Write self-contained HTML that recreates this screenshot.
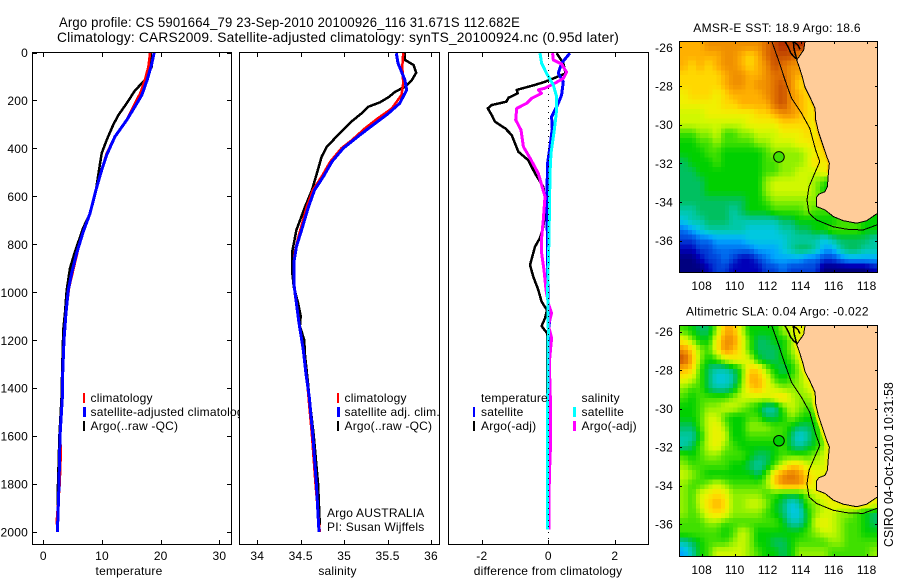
<!DOCTYPE html>
<html lang="en">
<head>
<meta charset="utf-8">
<title>Argo profile chart</title>
<style>
html,body{margin:0;padding:0;background:#fff;}
svg{display:block;font-family:"Liberation Sans",sans-serif;font-size:12px;fill:#000;}
text{letter-spacing:.2px;}
.frame{fill:none;stroke:#000;stroke-width:1;shape-rendering:crispEdges;}
.mark{fill:none;shape-rendering:crispEdges;stroke-linejoin:round;}
</style>
</head>
<body>
<svg id="chart" width="900" height="580" viewBox="0 0 900 580" xmlns="http://www.w3.org/2000/svg">
  <rect x="0" y="0" width="900" height="580" fill="#fff"/>
  <text x="59" y="27" font-size="14" textLength="461" lengthAdjust="spacingAndGlyphs">Argo profile: CS 5901664_79 23-Sep-2010 20100926_116 31.671S 112.682E</text>
  <text x="57" y="42" font-size="14" textLength="562" lengthAdjust="spacingAndGlyphs">Climatology: CARS2009. Satellite-adjusted climatology: synTS_20100924.nc (0.95d later)</text>

  <g id="panel-t"></g>
  <g id="legend-t">
    <rect x="83" y="393" width="2" height="10" fill="#f00"/>
    <text x="90.5" y="402">climatology</text>
    <rect x="83" y="407" width="3" height="10" fill="#00f"/>
    <text x="90.5" y="416">satellite-adjusted climatology</text>
    <rect x="83" y="421" width="2" height="10" fill="#000"/>
    <text x="90.5" y="430">Argo(..raw -QC)</text>
  </g>
  <text x="129" y="575" text-anchor="middle">temperature</text>

  <g id="panel-s"></g>
  <g id="legend-s">
    <rect x="337" y="393" width="2" height="10" fill="#f00"/>
    <text x="344.5" y="402">climatology</text>
    <rect x="337" y="407" width="3" height="10" fill="#00f"/>
    <text x="344.5" y="416">satellite adj. clim.</text>
    <rect x="337" y="421" width="2" height="10" fill="#000"/>
    <text x="344.5" y="430">Argo(..raw -QC)</text>
    <text x="327" y="517">Argo AUSTRALIA</text>
    <text x="327" y="531">PI: Susan Wijffels</text>
  </g>
  <text x="337.5" y="575" text-anchor="middle">salinity</text>

  <g id="panel-d"></g>
  <g id="legend-d">
    <text x="481" y="402">temperature</text>
    <rect x="473" y="407" width="2" height="10" fill="#00f"/>
    <text x="481" y="416">satellite</text>
    <rect x="473" y="421" width="2" height="10" fill="#000"/>
    <text x="481" y="430">Argo(-adj)</text>
    <text x="581.5" y="402">salinity</text>
    <rect x="573" y="407" width="3" height="10" fill="#0ff"/>
    <text x="581.5" y="416">satellite</text>
    <rect x="573" y="421" width="3" height="10" fill="#f0f"/>
    <text x="581.5" y="430">Argo(-adj)</text>
  </g>
  <text x="548" y="575" text-anchor="middle">difference from climatology</text>

  <text x="693.3" y="32" textLength="167.4" lengthAdjust="spacing">AMSR-E SST: 18.9 Argo: 18.6</text>
  <g id="map-sst"></g>
  <text x="686" y="315.5" textLength="182.7" lengthAdjust="spacing">Altimetric SLA: 0.04 Argo: -0.022</text>
  <g id="map-sla"></g>
  <text transform="translate(893,547) rotate(-90)" font-size="12.5" textLength="165" lengthAdjust="spacingAndGlyphs">CSIRO 04-Oct-2010 10:31:58</text>
</svg>

<script>
// ---------- profile data ----------
const depthTicks = [0,200,400,600,800,1000,1200,1400,1600,1800,2000];
const tempTicks = [0,10,20,30];
const salTicks = [34,34.5,35,35.5,36];
const diffTicks = [-2,0,2];

const tempClimDepth = [0,59,114,170,212,282,351,420,490,573,671,747,815,908,980,1086,1199,1337,1441,1600,1660,1800,1950,2000];
const tempClimValue = [18.2,17.9,17.3,16.5,15.6,14.2,12.2,10.8,9.95,8.98,7.96,6.82,6.0,5.1,4.4,3.87,3.53,3.3,3.2,2.85,3.0,2.8,2.3,2.4];
const tempSatDepth = [0,45,114,177,226,282,351,427,490,573,671,747,836,920,990,1086,1199,1337,1441,1600,1800,2000];
const tempSatValue = [18.9,18.5,17.7,16.8,15.6,14.2,12.2,10.8,9.95,8.98,7.96,6.82,5.69,4.84,4.26,3.87,3.53,3.3,3.24,2.85,2.67,2.4];
const tempArgoDepth = [3,59,108,128,159,212,261,302,365,420,504,573,671,730,830,900,990,1086,1156,1337,1441,1600,1800,1960];
const tempArgoValue = [18.3,18.46,17.6,16.8,15.6,14.2,12.8,11.9,10.8,9.95,9.4,8.98,7.96,6.82,5.4,4.55,3.98,3.7,3.4,3.2,3.1,2.75,2.5,2.4];

const salClimDepth = [3,59,128,177,233,274,316,365,399,455,518,573,643,773,836,900,1000,1100,1240,1400,1600,1800,2000];
const salClimValue = [35.68,35.67,35.68,35.66,35.55,35.39,35.24,35.09,34.97,34.84,34.74,34.64,34.57,34.47,34.43,34.42,34.43,34.47,34.53,34.58,34.63,34.67,34.72];
const salSatDepth = [3,44,115,156,212,254,295,344,399,455,518,573,643,740,810,878,961,1045,1128,1240,1337,1441,1600,1800,2000];
const salSatValue = [35.6,35.62,35.7,35.72,35.64,35.51,35.36,35.18,34.99,34.86,34.76,34.66,34.59,34.51,34.45,34.42,34.42,34.45,34.48,34.53,34.56,34.6,34.64,34.68,34.71];
const salArgoDepth = [3,31,52,84,115,143,163,187,208,226,254,286,344,393,435,511,573,643,740,836,907,978,1045,1100,1141,1199,1268,1366,1441,1600,1800,1970];
const salArgoValue = [35.7,35.7,35.8,35.83,35.78,35.7,35.59,35.51,35.41,35.28,35.2,35.09,34.93,34.8,34.74,34.68,34.63,34.55,34.45,34.4,34.4,34.42,34.47,34.5,34.49,34.54,34.55,34.58,34.6,34.65,34.7,34.72];

const diffTempSatDepth = [3,44,87,122,177,212,268,316,393,462,573,773,880,1050,1110,1160,1550,1970];
const diffTempSatValue = [.65,.4,.3,.45,.4,.3,.1,.12,.05,-.02,-.04,-.03,-.03,0,.05,0,.02,.02];
const diffTempArgoDepth = [3,44,87,122,135,156,170,189,205,219,233,261,289,316,344,414,449,504,560,643,726,773,810,886,935,990,1039,1074,1108,1141,1170,1267,1400,1540,1730];
const diffTempArgoValue = [.25,.45,.52,-.1,-.4,-.95,-.92,-1.2,-1.26,-1.7,-1.82,-1.7,-1.6,-1.3,-1.1,-.9,-.6,-.4,-.15,-.07,-.15,-.25,-.4,-.55,-.45,-.3,-.2,-.04,-.1,-.2,-.04,-.04,-.04,-.04,-.04];
const diffSalSatDepth = [3,44,87,135,184,240,323,420,504,773,990,1160,1500,1990];
const diffSalSatValue = [-.25,-.2,-.05,.15,.25,.25,.18,.08,.05,.02,-.02,0,-.02,-.02];
const diffSalArgoDepth = [3,31,48,82,108,128,149,156,170,191,212,233,281,323,393,440,504,601,698,773,836,907,990,1045,1087,1137,1191,1295,1478,1628,1770,1990];
const diffSalArgoValue = [.13,.15,.4,.55,.45,.2,-.1,-.3,-.2,-.5,-.65,-.95,-.98,-.82,-.75,-.55,-.3,-.1,-.15,-.2,-.2,-.13,-.07,0,.1,0,.1,.03,.07,.07,.03,.02];

// ---------- map data: colour-scale level per half-degree sample, north to south ----------
const sstGrid = [
[14,14,14,15,15,15,15,15,15,15,16,17,18,17,18,17],
[14,14,14,14,14,15,15,14,13,14,16,17,17,17,15,15],
[14,13,14,13,14,15,15,14,13,14,15,17,16,15,15,15],
[13,13,13,13,13,14,15,15,14,14,15,16,16,15,14,14],
[13,13,13,13,13,14,15,15,14,15,15,16,17,15,13,13,13],
[12,13,13,13,12,13,14,14,14,14,15,16,17,15,14,13,13],
[12,12,12,12,12,13,13,14,14,14,14,16,17,15,14,13,12,12],
[11,11,11,12,12,12,12,12,12,13,13,14,15,15,14,13,12,12],
[11,11,11,11,11,11,11,11,12,12,12,12,13,13,13,13,12,12,12],
[9,9,10,10,11,9,9,10,10,11,11,11,12,12,12,13,12,13,13],
[8,8,9,9,10,9,9,9,9,10,10,11,11,11,12,12,13,13,13,13],
[8,8,8,9,9,8,8,8,8,8,9,10,10,10,10,11,12,13,13,13],
[7,8,8,8,9,8,8,8,8,8,9,9,10,10,10,11,13,12,13,13],
[7,7,8,8,8,8,8,8,8,8,9,9,10,10,11,11,11,12,12,12],
[7,7,7,8,8,8,8,8,8,8,10,11,11,11,11,11,10,9,8,8],
[7,7,7,8,8,8,8,8,8,8,10,11,11,11,11,11,10,8,8,8],
[7,7,7,7,7,7,7,7,8,8,9,10,10,10,10,10,10,10,10,10],
[6,6,7,7,7,7,6,7,8,8,8,9,9,9,9,10,9,9,9,9,9,9,9,8],
[5,6,6,7,7,7,6,6,6,6,6,6,7,7,8,8,8,8,8,9,9,9,8,8],
[3,4,5,6,6,6,6,6,5,5,5,5,6,6,7,7,8,8,9,9,9,9,8,8],
[2,2,3,3,4,4,4,4,5,5,5,5,5,6,6,6,6,5,6,7,7,7,7,6],
[1,1,2,2,3,3,3,3,3,4,4,4,5,6,7,7,6,4,4,6,7,7,6,6],
[0,0,1,2,2,3,2,1,1,2,3,4,4,4,4,3,3,2,2,3,4,4,4,4],
[0,0,0,1,2,2,1,1,1,1,2,2,3,2,2,2,2,0,0,0,0,0,0,1]
];
const slaGrid = [
[9,8,7,7,10,14,14,11,8,8,8,8,10,11,12,11],
[12,10,8,8,12,15,15,12,9,7,7,8,8,10,11,12],
[15,13,10,9,12,15,14,12,9,7,7,7,8,10,12,12],
[17,14,10,8,9,11,12,12,11,8,7,7,8,9,11,12],
[14,13,9,7,6,6,7,9,13,13,10,8,7,8,10,12,12],
[12,11,9,7,5,5,6,9,14,14,12,9,8,9,10,12,12],
[10,9,9,7,6,6,7,10,13,14,12,11,10,10,10,11,12,13],
[9,8,9,9,9,9,10,11,11,11,11,12,13,11,10,10,11,13],
[8,8,9,10,10,11,11,10,9,8,6,6,9,11,10,9,10,12,13],
[8,8,9,11,11,9,8,8,9,9,7,7,8,10,9,8,9,11,13],
[7,7,9,11,12,10,8,8,10,10,10,9,9,8,7,7,8,11,12,13],
[6,6,8,11,12,11,8,8,9,9,9,9,9,7,5,6,8,10,12,13],
[6,7,9,11,12,10,9,8,8,8,8,8,9,7,6,7,8,10,13,13],
[9,8,9,10,10,9,9,9,8,7,7,8,9,9,9,9,10,11,12,13],
[10,9,9,9,9,9,8,8,7,6,7,9,11,13,13,11,11,11,12,12],
[11,10,9,8,8,8,8,8,8,7,9,13,15,16,15,13,12,12,12,13],
[10,9,9,10,11,10,9,9,9,9,10,13,15,15,15,13,12,13,13,13],
[10,9,11,12,13,12,10,10,10,10,9,9,8,8,8,10,11,12,13,13,13,13,13,13],
[10,9,11,13,14,13,10,10,11,11,10,8,7,5,6,9,10,11,12,12,12,12,12,12],
[10,9,10,12,13,12,10,10,10,10,9,8,7,5,5,8,10,11,11,10,10,9,8,7],
[9,9,9,10,10,9,9,9,9,9,9,9,8,6,6,8,11,12,11,10,9,9,8,7],
[9,9,9,9,9,8,9,11,10,8,8,8,8,8,8,9,10,11,11,10,9,9,8,8],
[6,7,8,9,9,9,10,11,10,8,8,7,7,8,9,9,9,9,10,10,9,9,9,9],
[4,6,8,9,11,11,11,11,10,9,8,8,7,8,10,10,10,10,9,9,9,9,9,10]
];
const coastLon = [114.26,114.18,113.76,113.9,114.12,114.26,114.57,114.87,114.91,115.07,115.27,115.58,115.74,115.68,115.62,115.47,115.1,114.97,114.97,115.47,115.98,116.59,117.39,118.0,118.6,118.8];
const coastLat = [-25.69,-26.14,-26.66,-27,-27.6,-28.07,-28.59,-29.16,-29.76,-30.36,-30.88,-31.66,-32,-32.52,-33.2,-33.47,-33.6,-33.75,-34.24,-34.41,-34.76,-34.97,-35.1,-34.97,-34.62,-34.55];
const contourLon = [112.25,112.65,113.05,113.45,114.05,114.55,114.9,115.16,114.85,114.5,114.38,114.5,114.95,115.96,116.77,117.78,118.7];
const contourLat = [-25.69,-26.65,-27.69,-28.64,-29.41,-30.19,-31.31,-31.91,-32.52,-33.21,-33.9,-34.59,-34.93,-35.28,-35.41,-35.45,-35.16];
const shelfIslandLon = [113.05,113.25,113.4,113.6,113.75,113.6,113.55,113.85,113.95];
const shelfIslandLat = [-25.69,-26.0,-26.3,-26.5,-26.6,-26.1,-25.69,-25.9,-26.1];
const lonTicks = [108,110,112,114,116,118];
const latTicks = [-26,-28,-30,-32,-34,-36];
const floatLon = 112.682;
const floatLat = -31.671;

// ---------- style ----------
const levelColors = [[0,0,127],[0,0,184],[0,64,216],[0,112,240],[0,168,255],[0,200,224],[0,200,168],[0,192,96],[0,208,0],[64,224,0],[144,240,0],[208,248,0],[240,240,0],[255,216,0],[255,176,0],[240,144,0],[224,112,0],[200,80,0],[176,40,0]];
const NS = 'http://www.w3.org/2000/svg';
const TOP = 52, BOTTOM = 545;
const depthY = d => 52.5 + d * 0.2398;
const tempX = v => 43.3 + v * 5.87;
const salX = v => 257.3 + (v - 34) * 86.85;
const diffX = v => 548.3 + v * 33.25;

function mk(parent, tag, attrs, text) {
  const el = document.createElementNS(NS, tag);
  for (const k in attrs) el.setAttribute(k, attrs[k]);
  if (text !== undefined) el.textContent = text;
  parent.appendChild(el);
  return el;
}
function fmt(p) { return p.map(a => a[0].toFixed(1) + ',' + a[1].toFixed(1)).join(' '); }
function levelColor(v) {
  const c = Math.max(0, Math.min(levelColors.length - 1, v));
  const a = Math.floor(c), b = Math.min(levelColors.length - 1, a + 1), f = c - a;
  const rgb = [0, 1, 2].map(k => Math.round(levelColors[a][k] + (levelColors[b][k] - levelColors[a][k]) * f));
  return 'rgb(' + rgb.join(',') + ')';
}
function gridValue(grid, r, c) {
  const row = grid[Math.max(0, Math.min(grid.length - 1, r))];
  return row[Math.max(0, Math.min(row.length - 1, c))];
}
function sampleGrid(grid, u, v) {
  const c0 = Math.floor(u), r0 = Math.floor(v), fu = u - c0, fv = v - r0;
  return (gridValue(grid, r0, c0) * (1 - fu) + gridValue(grid, r0, c0 + 1) * fu) * (1 - fv) +
         (gridValue(grid, r0 + 1, c0) * (1 - fu) + gridValue(grid, r0 + 1, c0 + 1) * fu) * fv;
}

function drawPanel(id, left, right, fx, xTicks, showY, series) {
  const g = document.getElementById(id);
  const clipId = 'clip-' + id;
  const defs = mk(g, 'defs', {});
  const cp = mk(defs, 'clipPath', {id: clipId});
  mk(cp, 'rect', {x: left, y: TOP, width: right - left, height: BOTTOM - TOP});
  const bg = mk(g, 'rect', {x: left, y: TOP, width: right - left, height: BOTTOM - TOP, fill: '#fff'});
  
  
  const plot = mk(g, 'g', {'clip-path': 'url(#' + clipId + ')'});
  series.forEach(s => {
    const pts = s.depth.map((d, i) => [fx(s.value[i]), depthY(d)]);
    const line = mk(plot, 'polyline', {points: fmt(pts), class: 'mark', stroke: s.color, 'stroke-width': s.width});
    
    
  });
  const fr = mk(g, 'rect', {x: left + .5, y: TOP + .5, width: right - left - 1, height: BOTTOM - TOP - 1, class: 'frame'});
  
  
  xTicks.forEach(v => {
    const x = Math.round(fx(v)) + .5;
    const t = mk(g, 'path', {d: `M${x} ${TOP}v5M${x} ${BOTTOM}v-5`, class: 'frame'});
    
    
    const lab = mk(g, 'text', {x: fx(v), y: 560, 'text-anchor': 'middle'}, String(v));
    
    
  });
  if (showY) depthTicks.forEach(d => {
    const y = Math.round(depthY(d)) + .5;
    const t = mk(g, 'path', {d: `M${left} ${y}h5M${right} ${y}h-5`, class: 'frame'});
    
    
    const lab = mk(g, 'text', {x: 28, y: depthY(d) + 4.5, 'text-anchor': 'end'}, String(d));
    
    
  });
  return {g, plot};
}

drawPanel('panel-t', 32, 232, tempX, tempTicks, true, [
  {name: 'temperature-argo-line', color: '#000', width: 2.5, depth: tempArgoDepth, value: tempArgoValue},
  {name: 'temperature-climatology-line', color: '#f00', width: 2.5, depth: tempClimDepth, value: tempClimValue},
  {name: 'temperature-satellite-line', color: '#00f', width: 3, depth: tempSatDepth, value: tempSatValue}
]);
drawPanel('panel-s', 239, 440, salX, salTicks, false, [
  {name: 'salinity-argo-line', color: '#000', width: 2.5, depth: salArgoDepth, value: salArgoValue},
  {name: 'salinity-climatology-line', color: '#f00', width: 2.5, depth: salClimDepth, value: salClimValue},
  {name: 'salinity-satellite-line', color: '#00f', width: 3, depth: salSatDepth, value: salSatValue}
]);
const dp = drawPanel('panel-d', 448, 649, diffX, diffTicks, false, [
  {name: 'difference-temp-argo-line', color: '#000', width: 2.5, depth: diffTempArgoDepth, value: diffTempArgoValue},
  {name: 'difference-temp-satellite-line', color: '#00f', width: 3, depth: diffTempSatDepth, value: diffTempSatValue},
  {name: 'difference-sal-argo-line', color: '#f0f', width: 3, depth: diffSalArgoDepth, value: diffSalArgoValue},
  {name: 'difference-sal-satellite-line', color: '#0ff', width: 3, depth: diffSalSatDepth, value: diffSalSatValue}
]);
const zero = mk(dp.plot, 'line', {x1: 548.5, x2: 548.5, y1: TOP, y2: BOTTOM, stroke: '#000', 'stroke-width': 1, 'stroke-dasharray': '1 5', 'shape-rendering': 'crispEdges'});



function drawMap(id, top, bottom, y26, yScale, grid, bandColor, bandWidth, bandStart, bandEnd, floatLevel) {
  const g = document.getElementById(id);
  const left = 679, right = 878;
  const lonX = lon => 701.7 + (lon - 108) * 16.5;
  const latY = lat => y26 + (-26 - lat) * yScale;
  const clipId = 'clip-' + id;
  const defs = mk(g, 'defs', {});
  const cp = mk(defs, 'clipPath', {id: clipId});
  mk(cp, 'rect', {x: left, y: top, width: right - left, height: bottom - top});
  const plot = mk(g, 'g', {'clip-path': 'url(#' + clipId + ')', 'shape-rendering': 'crispEdges'});
  const rowCount = grid.length * 2, colCount = 48;
  for (let j = 0; j < rowCount; j++) {
    for (let i = 0; i < colCount; i++) {
      const x0 = lonX(106.66 + i * .25), x1 = lonX(106.66 + (i + 1) * .25);
      const y0 = latY(-25.69 - j * .25), y1 = latY(-25.69 - (j + 1) * .25);
      const v = sampleGrid(grid, (i + .5) / 2 - .5, (j + .5) / 2 - .5);
      const c = mk(plot, 'rect', {x: x0.toFixed(2), y: y0.toFixed(2), width: (x1 - x0 + .5).toFixed(2), height: (y1 - y0 + .5).toFixed(2), fill: levelColor(v)});
      
      
    }
  }
  const coastPts = coastLon.map((lon, i) => [lonX(lon), latY(coastLat[i])]);
  const band = mk(plot, 'polyline', {points: fmt(coastPts.slice(bandStart, bandEnd)), fill: 'none', stroke: bandColor, 'stroke-width': bandWidth});
  
  
  const landPts = coastPts.concat([[lonX(118.8), latY(-25.5)], [lonX(114.26), latY(-25.5)]]);
  const land = mk(plot, 'polygon', {points: fmt(landPts), fill: '#ffcc99', stroke: '#000', 'stroke-width': 1});
  
  
  const contourPts = contourLon.map((lon, i) => [lonX(lon), latY(contourLat[i])]);
  const contour = mk(plot, 'polyline', {points: fmt(contourPts), class: 'mark', stroke: '#000', 'stroke-width': 1});
  
  
  const islandPts = shelfIslandLon.map((lon, i) => [lonX(lon), latY(shelfIslandLat[i])]);
  const island = mk(plot, 'polyline', {points: fmt(islandPts), class: 'mark', stroke: '#000', 'stroke-width': 1.5});
  
  
  const fl = mk(g, 'circle', {cx: lonX(floatLon), cy: latY(floatLat), r: 5.3, fill: levelColor(floatLevel), stroke: '#000', 'stroke-width': 1});
  
  
  const fr = mk(g, 'rect', {x: left + .5, y: top + .5, width: right - left - 1, height: bottom - top - 1, class: 'frame'});
  
  
  lonTicks.forEach(v => {
    const x = Math.round(lonX(v)) + .5;
    const t = mk(g, 'path', {d: `M${x} ${top}v3M${x} ${bottom}v-3`, class: 'frame'});
    
    
    const lab = mk(g, 'text', {x: lonX(v), y: bottom + 17, 'text-anchor': 'middle'}, String(v));
    
    
  });
  latTicks.forEach(v => {
    const y = Math.round(latY(v)) + .5;
    const t = mk(g, 'path', {d: `M${left} ${y}h3M${right} ${y}h-3`, class: 'frame'});
    
    
    const lab = mk(g, 'text', {x: 673, y: latY(v) + 4.5, 'text-anchor': 'end'}, String(v));
    
    
  });
}
drawMap('map-sst', 41, 273, 47.3, 19.33, sstGrid, '#ffc800', 4, 4, 14, 9);
drawMap('map-sla', 325, 557, 331.7, 19.23, slaGrid, '#e8f000', 6, 0, 26, 8);
</script>
</body>
</html>
